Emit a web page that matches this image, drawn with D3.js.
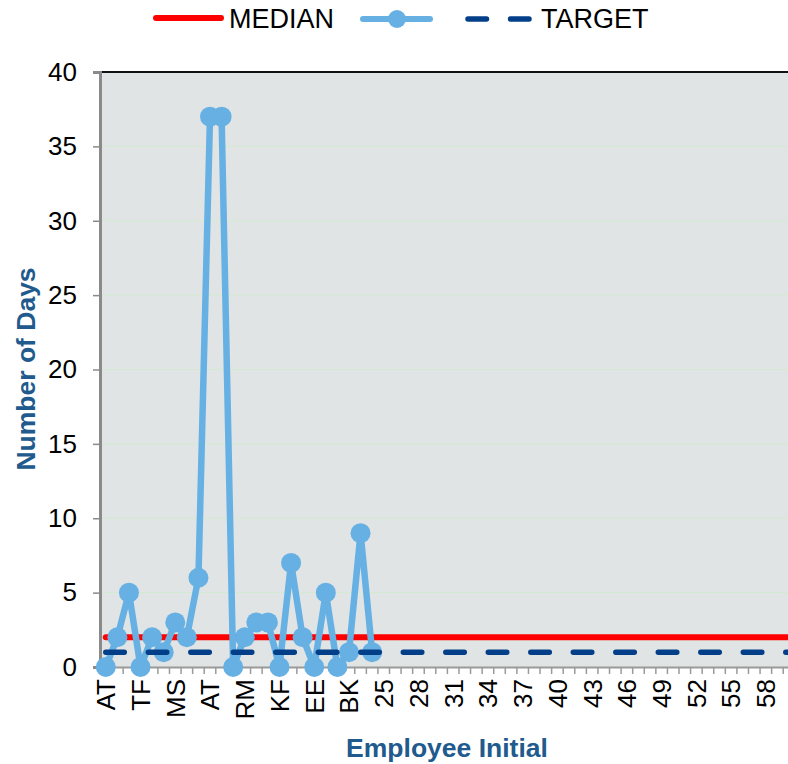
<!DOCTYPE html>
<html>
<head>
<meta charset="utf-8">
<script src="https://cdn.jsdelivr.net/npm/d3@7"></script>
<style>
  html, body { margin: 0; padding: 0; background: #ffffff; }
  svg { display: block; font-family: "Liberation Sans", Arial, sans-serif; }
</style>
</head>
<body>
<svg id="chart" width="788" height="764"></svg>
<script>
// ---- data ----
const categories = [
  "AT","2","3","TF","5","6","MS","8","9","AT","11","12","RM","14","15","KF","17","18","EE","20",
  "21","BK","23","24","25","26","27","28","29","30","31","32","33","34","35","36","37","38","39","40",
  "41","42","43","44","45","46","47","48","49","50","51","52","53","54","55","56","57","58","59","60"
];
const daysValues = [0,2,5,0,2,1,3,2,6,37,37,0,2,3,3,0,7,2,0,5,0,1,9,1];
const medianValue = 2;
const targetValue = 1;
const yTicks = [0,5,10,15,20,25,30,35,40];
const seriesNames = ["MEDIAN", "", "TARGET"];

// ---- layout ----
const svg = d3.select("#chart");
const plotLeft = 100, plotTop = 72, plotBottom = 667;
const bandW = 11.58;
const plotRight = plotLeft + bandW * categories.length;

const x = d3.scaleBand().domain(d3.range(categories.length)).range([plotLeft, plotRight]).padding(0);
const y = d3.scaleLinear().domain([0, 40]).range([plotBottom, plotTop]);
const cx = i => x(i) + x.bandwidth() / 2;

const lineBlue = "#66b0e3";
const red = "#ff0000";
const navy = "#033f88";
const titleBlue = "#215a8c";

// plot background
svg.append("rect").attr("x", plotLeft).attr("y", plotTop).attr("width", plotRight - plotLeft).attr("height", plotBottom - plotTop)
  .attr("fill", "#e0e4e5");

// gridlines
svg.append("g").selectAll("line").data(yTicks.filter(t => t > 0 && t < 40)).join("line")
  .attr("x1", plotLeft).attr("x2", plotRight).attr("y1", d => y(d)).attr("y2", d => y(d))
  .attr("stroke", "#d3ead0").attr("stroke-width", 1);

// top border
svg.append("line").attr("x1", plotLeft).attr("x2", plotRight).attr("y1", plotTop).attr("y2", plotTop)
  .attr("stroke", "#111").attr("stroke-width", 2);

// y axis
const yAxis = d3.axisLeft(y).tickValues(yTicks).tickSize(7).tickPadding(16);
const yg = svg.append("g").attr("transform", `translate(${plotLeft},0)`).call(yAxis);
yg.select(".domain").attr("stroke", "#8a8a8a").attr("stroke-width", 3);
yg.selectAll(".tick line").attr("stroke", "#8a8a8a").attr("stroke-width", 1.5);
yg.selectAll(".tick text").attr("font-size", 26).attr("fill", "#000")
  .attr("font-family", "Liberation Sans, Arial, sans-serif");

// x axis
const xAxis = d3.axisBottom(x).tickValues(d3.range(0, categories.length, 3))
  .tickFormat(i => categories[i]).tickSize(0).tickPadding(0);
const xg = svg.append("g").attr("transform", `translate(0,${plotBottom})`).call(xAxis);
xg.select(".domain").attr("stroke", "#9a9a9a").attr("stroke-width", 2);
xg.selectAll(".tick text")
  .attr("font-size", 26).attr("fill", "#000")
  .attr("font-family", "Liberation Sans, Arial, sans-serif")
  .attr("text-anchor", "end")
  .attr("transform", "rotate(-90)")
  .attr("x", -12).attr("y", 0).attr("dy", "0.36em");
// boundary tick marks
svg.append("g").selectAll("line").data(d3.range(1, categories.length + 1)).join("line")
  .attr("x1", i => plotLeft + i * bandW).attr("x2", i => plotLeft + i * bandW)
  .attr("y1", plotBottom).attr("y2", plotBottom + 7)
  .attr("stroke", "#9a9a9a").attr("stroke-width", 1.5);

// median line
svg.append("line")
  .attr("x1", cx(0)).attr("x2", cx(categories.length - 1))
  .attr("y1", y(medianValue)).attr("y2", y(medianValue))
  .attr("stroke", red).attr("stroke-width", 6).attr("stroke-linecap", "round");

// data series
const line = d3.line().x((d, i) => cx(i)).y(d => y(d));
svg.append("path").datum(daysValues).attr("d", line)
  .attr("fill", "none").attr("stroke", lineBlue).attr("stroke-width", 6.5).attr("stroke-linejoin", "round");
svg.append("g").selectAll("circle").data(daysValues).join("circle")
  .attr("cx", (d, i) => cx(i)).attr("cy", d => y(d)).attr("r", 10).attr("fill", lineBlue);

// target line
svg.append("line")
  .attr("x1", cx(0)).attr("x2", cx(categories.length - 1))
  .attr("y1", y(targetValue)).attr("y2", y(targetValue))
  .attr("stroke", navy).attr("stroke-width", 5.5).attr("stroke-linecap", "round")
  .attr("stroke-dasharray", "18.5 24");

// axis titles
svg.append("text").attr("transform", "translate(35,369) rotate(-90)")
  .attr("text-anchor", "middle").attr("font-size", 26.5).attr("font-weight", "bold")
  .attr("fill", titleBlue).text("Number of Days");
svg.append("text").attr("x", 447).attr("y", 757)
  .attr("text-anchor", "middle").attr("font-size", 26.5).attr("font-weight", "bold")
  .attr("fill", titleBlue).text("Employee Initial");

// legend
const lg = svg.append("g");
lg.append("line").attr("x1", 156).attr("x2", 221).attr("y1", 18).attr("y2", 18)
  .attr("stroke", red).attr("stroke-width", 6).attr("stroke-linecap", "round");
lg.append("text").attr("x", 229).attr("y", 28).attr("font-size", 27).attr("fill", "#000").text(seriesNames[0]);
lg.append("line").attr("x1", 363).attr("x2", 430).attr("y1", 19).attr("y2", 19)
  .attr("stroke", lineBlue).attr("stroke-width", 6).attr("stroke-linecap", "round");
lg.append("circle").attr("cx", 397).attr("cy", 19).attr("r", 9).attr("fill", lineBlue);
lg.append("line").attr("x1", 468).attr("x2", 530).attr("y1", 19).attr("y2", 19)
  .attr("stroke", navy).attr("stroke-width", 5.5).attr("stroke-linecap", "round")
  .attr("stroke-dasharray", "18.5 24");
lg.append("text").attr("x", 541).attr("y", 28).attr("font-size", 27).attr("fill", "#000").text(seriesNames[2]);
</script>
</body>
</html>
